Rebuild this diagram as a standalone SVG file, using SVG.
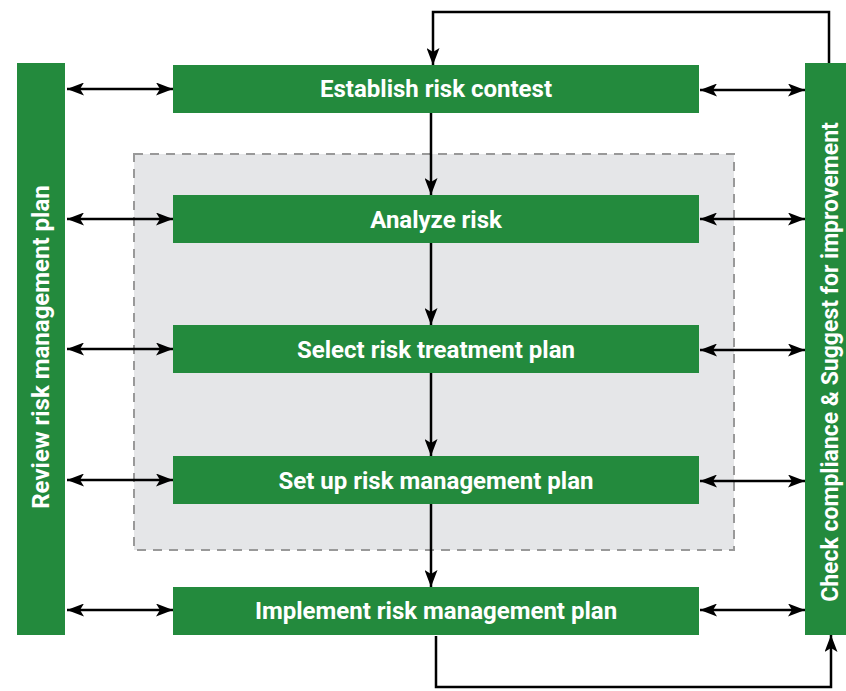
<svg xmlns="http://www.w3.org/2000/svg" width="846" height="691" viewBox="0 0 846 691">
  <style>
    .node { fill: #238a3d; }
    .label { fill: #ffffff; font-family: Roboto, "Liberation Sans", sans-serif; font-weight: bold; font-size: 24px; text-anchor: middle; dominant-baseline: central; }
    .link { fill: none; stroke: #000000; stroke-width: 2.5; }
  </style>
  <defs>
    <marker id="arrow" viewBox="0 0 17 13" refX="17" refY="6.5" markerWidth="17" markerHeight="13" orient="auto-start-reverse" markerUnits="userSpaceOnUse">
      <path d="M0,0 L17,6.5 L0,13 L4,6.5 Z" fill="#000000"/>
    </marker>
  </defs>
  <rect width="846" height="691" fill="#ffffff"/>

  <!-- core analysis region -->
  <rect id="core-region" x="134" y="154" width="600" height="396" fill="#e5e6e8" stroke="#999999" stroke-width="2" stroke-dasharray="9,7"/>

  <g id="review">
    <rect class="node" x="17" y="63" width="48" height="572"/>
    <text class="label" transform="translate(41,347) rotate(-90)">Review risk management plan</text>
  </g>
  <g id="check">
    <rect class="node" x="805" y="63" width="41" height="572"/>
    <text class="label" style="font-size:23px" transform="translate(830,362) rotate(-90)">Check compliance &amp; Suggest for improvement</text>
  </g>
  <g id="establish">
    <rect class="node" x="173" y="65" width="526" height="48"/>
    <text class="label" x="436" y="89">Establish risk contest</text>
  </g>
  <g id="analyze">
    <rect class="node" x="173" y="195" width="526" height="48"/>
    <text class="label" x="436" y="220">Analyze risk</text>
  </g>
  <g id="select">
    <rect class="node" x="173" y="325" width="526" height="48"/>
    <text class="label" x="436" y="350">Select risk treatment plan</text>
  </g>
  <g id="setup">
    <rect class="node" x="173" y="456" width="526" height="48"/>
    <text class="label" x="436" y="481">Set up risk management plan</text>
  </g>
  <g id="implement">
    <rect class="node" x="173" y="587" width="526" height="48"/>
    <text class="label" x="436" y="611">Implement risk management plan</text>
  </g>

  <g id="connectors">
    <!-- main flow -->
    <line class="link" x1="431" y1="113" x2="431" y2="195" marker-end="url(#arrow)"/>
    <line class="link" x1="431" y1="243" x2="431" y2="325" marker-end="url(#arrow)"/>
    <line class="link" x1="431" y1="373" x2="431" y2="456" marker-end="url(#arrow)"/>
    <line class="link" x1="431" y1="504" x2="431" y2="587" marker-end="url(#arrow)"/>
    <!-- review links -->
    <line class="link" x1="67" y1="89" x2="173" y2="89" marker-start="url(#arrow)" marker-end="url(#arrow)"/>
    <line class="link" x1="67" y1="219" x2="173" y2="219" marker-start="url(#arrow)" marker-end="url(#arrow)"/>
    <line class="link" x1="67" y1="349" x2="173" y2="349" marker-start="url(#arrow)" marker-end="url(#arrow)"/>
    <line class="link" x1="67" y1="480" x2="173" y2="480" marker-start="url(#arrow)" marker-end="url(#arrow)"/>
    <line class="link" x1="67" y1="610" x2="173" y2="610" marker-start="url(#arrow)" marker-end="url(#arrow)"/>
    <!-- compliance links -->
    <line class="link" x1="700" y1="90" x2="805" y2="90" marker-start="url(#arrow)" marker-end="url(#arrow)"/>
    <line class="link" x1="700" y1="219" x2="805" y2="219" marker-start="url(#arrow)" marker-end="url(#arrow)"/>
    <line class="link" x1="700" y1="350" x2="805" y2="350" marker-start="url(#arrow)" marker-end="url(#arrow)"/>
    <line class="link" x1="700" y1="481" x2="805" y2="481" marker-start="url(#arrow)" marker-end="url(#arrow)"/>
    <line class="link" x1="700" y1="610" x2="805" y2="610" marker-start="url(#arrow)" marker-end="url(#arrow)"/>
    <!-- feedback loops -->
    <polyline class="link" points="829,63 829,12 433,12 433,65" marker-end="url(#arrow)"/>
    <polyline class="link" points="436,636 436,687 831,687 831,635" marker-end="url(#arrow)"/>
  </g>
</svg>
